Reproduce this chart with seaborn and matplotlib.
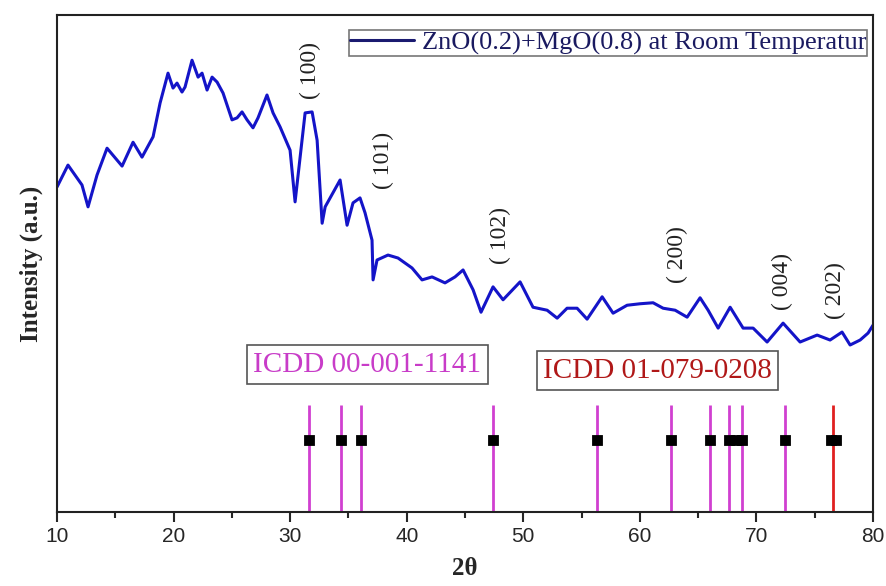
import matplotlib
matplotlib.use("Agg")
import matplotlib.pyplot as plt
import seaborn as sns
import pandas as pd

# ---- data ----
two_theta = [10.0, 10.94, 12.14, 12.66, 13.43, 14.29, 15.58, 16.52, 17.29, 18.24,
             18.84, 19.52, 19.95, 20.29, 20.72, 20.98, 21.58, 22.10, 22.44, 22.87,
             23.30, 23.73, 24.24, 25.01, 25.44, 25.87, 26.30, 26.81, 27.24, 28.01,
             28.53, 29.13, 29.99, 30.42, 31.28, 31.88, 32.31,
             32.74, 33.0, 34.28, 34.88, 35.39, 35.99, 36.42, 37.02, 37.11, 37.45,
             38.39, 39.25, 40.45, 41.31, 42.17, 43.28, 44.14, 44.83, 45.69, 46.37,
             47.40, 48.26, 49.72, 50.83, 52.04, 52.90, 53.75, 54.61, 55.47, 56.76,
             57.70, 58.90, 60.02, 61.13, 61.99, 63.02, 64.05, 65.16, 65.85, 66.71,
             67.74, 68.85, 69.71, 70.91, 72.28, 73.74, 75.20, 76.31, 77.34, 78.03,
             78.89, 79.57, 80.0]
intensity = [65.4, 69.8, 65.8, 61.4, 67.8, 73.2, 69.6, 74.4, 71.4, 75.5,
             82.3, 88.3, 85.3, 86.3, 84.5, 85.5, 90.9, 87.5, 88.3, 84.9,
             87.5, 86.5, 84.3, 78.9, 79.3, 80.5, 78.9, 77.3, 79.3, 83.9,
             80.3, 77.5, 72.8, 62.4, 80.3, 80.5, 74.8,
             58.1, 61.4, 66.8, 57.7, 62.2, 63.2, 60.2, 54.7, 46.7, 50.7,
             51.7, 51.1, 49.1, 46.7, 47.3, 46.1, 47.3, 48.7, 44.7, 40.2,
             45.3, 42.7, 46.3, 41.2, 40.6, 39.0, 41.0, 41.0, 38.8, 43.3,
             40.0, 41.6, 41.9, 42.1, 41.0, 40.6, 39.2, 43.1, 40.6, 37.0,
             41.2, 37.0, 37.0, 34.2, 38.0, 34.2, 35.6, 34.6, 36.2, 33.6,
             34.6, 36.0, 37.6]

zno_sticks = [31.63, 34.36, 36.11, 47.38, 56.28, 62.65, 66.04, 67.66, 68.77, 72.42]
mgo_sticks = [76.6]
stick_height = 21.5
marker_pos = [31.63, 34.36, 36.11, 47.38, 56.28, 62.65, 66.04, 67.66, 68.25, 68.77,
              72.42, 76.4, 76.8]
marker_level = 14.5

hkl_labels = ["( 100)", "( 101)", "( 102)", "( 200)", "( 004)", "( 202)"]
hkl_x = [31.7, 38.0, 48.0, 63.2, 72.2, 76.8]
hkl_y = [88.9, 70.8, 55.7, 51.7, 46.3, 44.5]

legend_label = "ZnO(0.2)+MgO(0.8) at Room Temperatur"

# ---- plot ----
sns.set_theme(style="white")
plt.rcParams['font.family'] = ['Liberation Serif', 'DejaVu Serif']

fig = plt.figure(figsize=(8.87, 5.86), dpi=100)
ax = fig.add_axes([0.0643, 0.1263, 0.9200, 0.8481])

df = pd.DataFrame({"2θ": two_theta, "I": intensity})
sns.lineplot(data=df, x="2θ", y="I", ax=ax, color="#1414c8", linewidth=2.2,
             label=legend_label)

ax.vlines(zno_sticks, 0, stick_height, color="#d040d0", linewidth=2.0)
ax.vlines(mgo_sticks, 0, stick_height, color="#e02020", linewidth=2.0)
mdf = pd.DataFrame({"x": marker_pos, "y": [marker_level] * len(marker_pos)})
sns.scatterplot(data=mdf, x="x", y="y", ax=ax, marker="s", s=55, color="black",
                edgecolor="black", zorder=5, legend=False)

for t, x, y in zip(hkl_labels, hkl_x, hkl_y):
    ax.text(x, y, t, rotation=90, ha="center", va="center", fontsize=17,
            color="#222222")

ax.text(36.6, 29.6, "ICDD 00-001-1141", ha="center", va="center", fontsize=21,
        color="#c83cc8",
        bbox=dict(boxstyle="square,pad=0.22", fc="white", ec="#555555", lw=1.2))
ax.text(61.5, 28.4, "ICDD 01-079-0208", ha="center", va="center", fontsize=21,
        color="#b01818",
        bbox=dict(boxstyle="square,pad=0.22", fc="white", ec="#555555", lw=1.2))

ax.set_xlim(10, 80)
ax.set_ylim(0, 100)
ax.set_xticks(range(10, 81, 10))
ax.set_xticks(range(15, 80, 10), minor=True)
ax.set_yticks([])
ax.tick_params(axis="x", which="major", direction="out", length=7, width=1.5,
               bottom=True, labelsize=15, pad=4)
ax.tick_params(axis="x", which="minor", direction="out", length=4, width=1.5,
               bottom=True)
for lab in ax.get_xticklabels():
    lab.set_fontfamily("Liberation Sans")
for sp in ax.spines.values():
    sp.set_color("#222222")
    sp.set_linewidth(1.5)

ax.set_xlabel("2θ", fontsize=18, fontweight="bold", labelpad=8)
ax.set_ylabel("Intensity (a.u.)", fontsize=18, fontweight="bold", labelpad=10)

leg = ax.legend(loc="upper right", fontsize=19, frameon=True, fancybox=False,
                borderpad=0.05, handlelength=2.4, handletextpad=0.3,
                borderaxespad=0.0, bbox_to_anchor=(0.993, 0.97))
leg.get_frame().set_edgecolor("#555555")
leg.get_frame().set_linewidth(1.2)
for txt in leg.get_texts():
    txt.set_color("#1a1a60")
leg.get_lines()[0].set_color("#1a1a70")

fig.savefig("out.png", dpi=100)
